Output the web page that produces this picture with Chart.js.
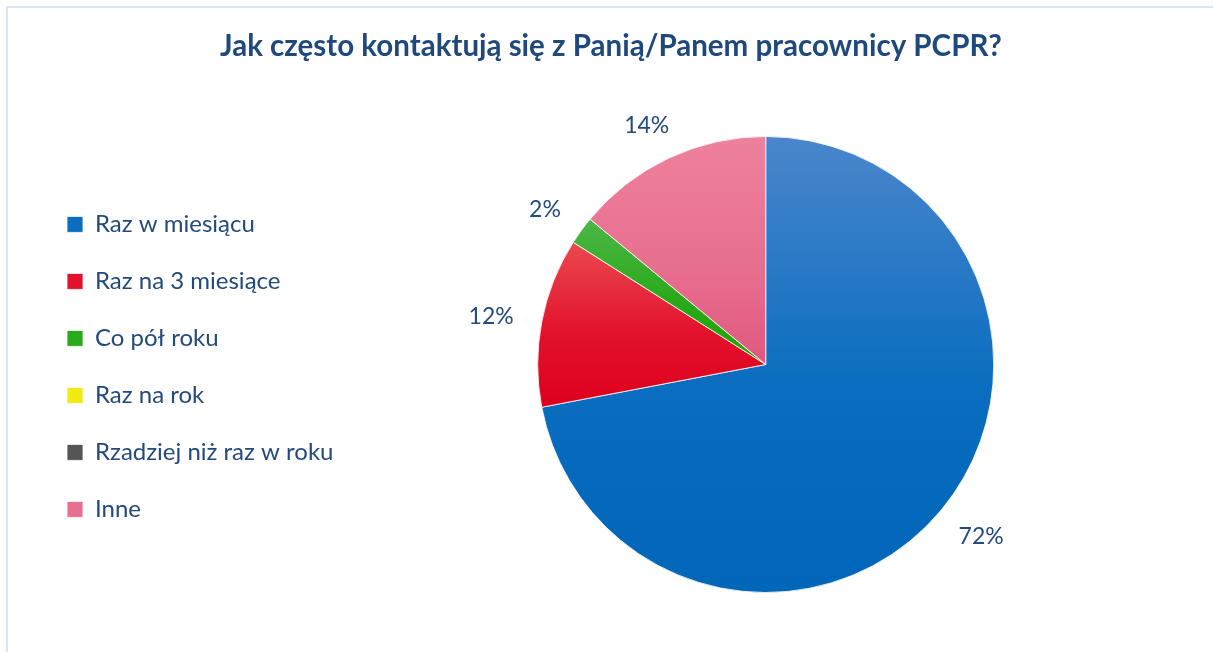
<!DOCTYPE html>
<html lang="pl">
<head>
<meta charset="utf-8">
<title>Jak często kontaktują się z Panią/Panem pracownicy PCPR?</title>
<script src="https://cdn.jsdelivr.net/npm/chart.js@4.4.1/dist/chart.umd.min.js"></script>
<style>
    html, body { margin: 0; padding: 0; background: #ffffff; }
    .wrap { position: relative; width: 1213px; height: 652px; overflow: hidden; }
    .frame {
        position: absolute; left: 6px; top: 6px; right: -10px; bottom: -10px;
        border-top: 2px solid #d9e5f4; border-left: 2px solid #d9e5f4;
    }
    canvas { position: absolute; left: 0; top: 0; }
</style>
</head>
<body>
<div class="wrap">
    <div class="frame"></div>
    <canvas id="pieChart" width="1213" height="652"></canvas>
</div>
<script>
// Data
const categories = ['Raz w miesiącu', 'Raz na 3 miesiące', 'Co pół roku', 'Raz na rok', 'Rzadziej niż raz w roku', 'Inne'];
const shares = [72, 12, 2, 0, 0, 14];

// slice colours (legend swatch, gradient top, gradient bottom)
const swatchColors = ['#0a6dbf', '#e3122c', '#2aa91a', '#f1ea12', '#555555', '#e8708f'];
const topColors = ['#4a86cc', '#e9494f', '#4db748', '#f4f060', '#6c6c6c', '#ee819d'];
const bottomColors = ['#0066b8', '#dd001c', '#20a300', '#eee600', '#3e3e3e', '#e0587f'];

const textColor = '#234a7e';
const labelSize = 23;

// vertical gradient per slice, using the arc geometry from the library
const sliceGradients = {
    id: 'sliceGradients',
    beforeDatasetsDraw(chart) {
        const ctx = chart.ctx;
        chart.getDatasetMeta(0).data.forEach((arc, i) => {
            const {x, y, startAngle, endAngle, outerRadius} = arc.getProps(['x', 'y', 'startAngle', 'endAngle', 'outerRadius']);
            if (endAngle - startAngle <= 0) return;
            const ys = [y, y + outerRadius * Math.sin(startAngle), y + outerRadius * Math.sin(endAngle)];
            for (let k = -4; k <= 4; k++) {
                const a = Math.PI / 2 + k * Math.PI;
                if (a > startAngle && a < endAngle) ys.push(y + outerRadius * Math.sin(a));
            }
            const y0 = Math.min(...ys), y1 = Math.max(...ys);
            const g = ctx.createLinearGradient(0, y0, 0, y1);
            g.addColorStop(0, topColors[i]);
            g.addColorStop(0.55, swatchColors[i]);
            g.addColorStop(1, bottomColors[i]);
            arc.options.backgroundColor = g;
        });
    }
};

// percentage labels outside the pie, text box pushed out along the mid angle
const outsideLabels = {
    id: 'outsideLabels',
    afterDatasetsDraw(chart) {
        const ctx = chart.ctx;
        const values = chart.data.datasets[0].data;
        const total = values.reduce((a, b) => a + b, 0);
        ctx.save();
        ctx.font = labelSize + 'px Lato';
        ctx.fillStyle = textColor;
        ctx.textAlign = 'center';
        ctx.textBaseline = 'middle';
        chart.getDatasetMeta(0).data.forEach((arc, i) => {
            if (!values[i]) return;
            const {x, y, startAngle, endAngle, outerRadius} = arc.getProps(['x', 'y', 'startAngle', 'endAngle', 'outerRadius']);
            const mid = (startAngle + endAngle) / 2;
            const cos = Math.cos(mid), sin = Math.sin(mid);
            const pct = Math.round(values[i] / total * 100) + '%';
            const w = ctx.measureText(pct).width;
            const h = labelSize * 0.85;
            const dist = outerRadius + 29;
            ctx.fillText(pct, x + dist * cos + cos * w / 2, y + 2 + dist * sin + sin * h / 2);
        });
        ctx.restore();
    }
};

const data = {
    labels: categories,
    datasets: [{
        data: shares,
        backgroundColor: swatchColors,
        borderColor: 'rgba(255, 255, 255, 0.8)',
        borderWidth: 1
    }]
};

const config = {
    type: 'pie',
    data: data,
    options: {
        responsive: false,
        animation: false,
        radius: 228,
        layout: {
            padding: { left: 34, right: 25, top: 0, bottom: 17.4 }
        },
        plugins: {
            title: {
                display: true,
                text: 'Jak często kontaktują się z Panią/Panem pracownicy PCPR?',
                color: '#1f497d',
                font: { family: 'Lato', size: 29.5, weight: 'bold' },
                padding: { top: 29, bottom: 30 }
            },
            legend: {
                position: 'left',
                fullSize: false,
                title: { display: true, text: '', font: { size: 4 }, padding: 0 },
                labels: {
                    color: textColor,
                    font: { family: 'Lato', size: 24 },
                    boxWidth: 16,
                    boxHeight: 16,
                    padding: 33
                },
                onClick: null
            },
            tooltip: { enabled: false }
        }
    },
    plugins: [sliceGradients, outsideLabels]
};

new Chart(document.getElementById('pieChart').getContext('2d'), config);
</script>
</body>
</html>
